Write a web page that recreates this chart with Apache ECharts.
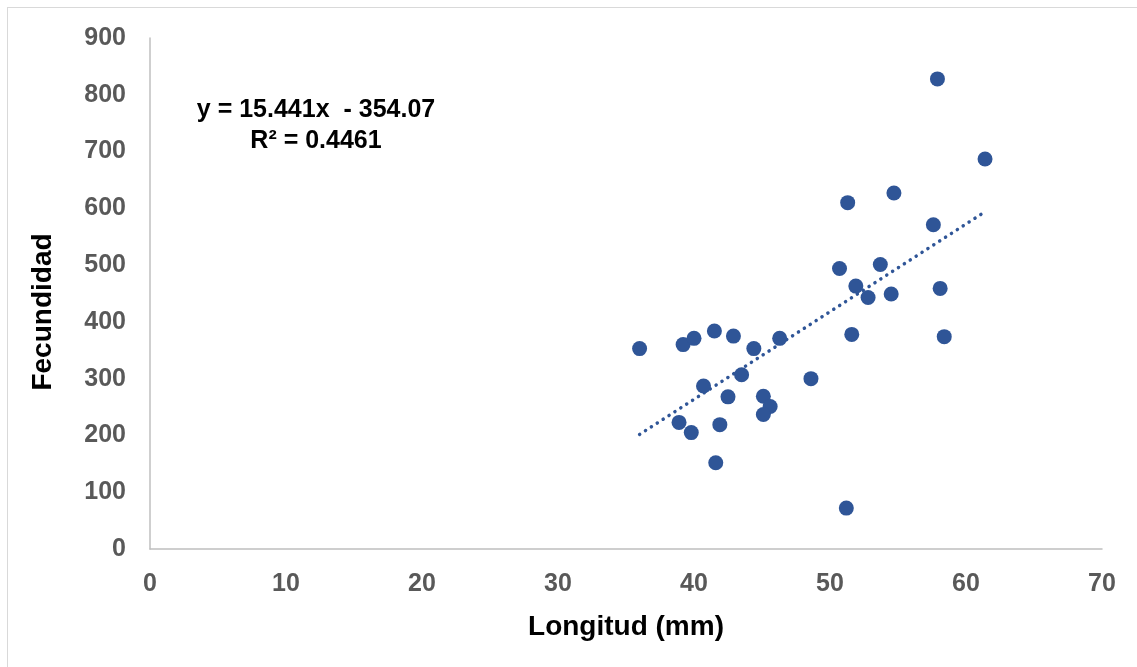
<!DOCTYPE html>
<html>
<head>
<meta charset="utf-8">
<script src="https://cdn.jsdelivr.net/npm/echarts@6/dist/echarts.min.js"></script>
<style>
  html, body { margin: 0; padding: 0; background: #ffffff; }
  #frame { position: absolute; left: 7px; top: 7px; width: 1140px; height: 670px; border: 1px solid #d9d9d9; box-sizing: border-box; }
  #chart { position: absolute; left: 0; top: 0; width: 1137px; height: 667px; }
</style>
</head>
<body>
<div id="frame"></div>
<div id="chart"></div>
<script>
// Data
const longitud = [36.0, 39.2, 40.0, 41.5, 42.9, 44.4, 46.3, 43.5, 40.7, 42.5, 45.1, 45.6, 45.1, 38.9, 39.8, 41.9, 41.6, 48.6,
                  57.9, 61.4, 51.3, 54.7, 57.6, 50.7, 53.7, 51.9, 52.8, 54.5, 58.1, 51.6, 58.4, 51.2];
const fecundidad = [353, 360, 371, 384, 375, 353, 371, 307, 287, 268, 269, 251, 237, 223, 205, 219, 152, 300,
                    828, 687, 610, 627, 571, 494, 501, 463, 443, 449, 459, 378, 374, 72];
const trendSlope = 15.441;
const trendIntercept = -354.07;
const rSquared = 0.4461;
const xTicks = [0, 10, 20, 30, 40, 50, 60, 70];
const yTicks = [0, 100, 200, 300, 400, 500, 600, 700, 800, 900];
const xTitle = 'Longitud (mm)';
const yTitle = 'Fecundidad';

const points = longitud.map((x, i) => [x, fecundidad[i]]);
const xMin = Math.min(...longitud), xMax = Math.max(...longitud);
const trend = [[xMin, trendSlope * xMin + trendIntercept], [xMax, trendSlope * xMax + trendIntercept]];

const FONT = '"Liberation Sans", Arial, sans-serif';
const chart = echarts.init(document.getElementById('chart'), null, { renderer: 'canvas' });
chart.setOption({
  animation: false,
  backgroundColor: 'transparent',
  grid: { left: 150, right: 35, top: 38, bottom: 118 },
  xAxis: {
    type: 'value', min: xTicks[0], max: xTicks[xTicks.length - 1], interval: 10,
    axisLine: { show: true, lineStyle: { color: '#bfbfbf', width: 1.5 } },
    axisTick: { show: false },
    splitLine: { show: false },
    axisLabel: { color: '#595959', fontFamily: FONT, fontWeight: 'bold', fontSize: 25, margin: 23 },
    name: xTitle, nameLocation: 'middle', nameGap: 64,
    nameTextStyle: { color: '#000000', fontFamily: FONT, fontWeight: 'bold', fontSize: 28 }
  },
  yAxis: {
    type: 'value', min: yTicks[0], max: yTicks[yTicks.length - 1], interval: 100,
    axisLine: { show: true, lineStyle: { color: '#bfbfbf', width: 1.5 } },
    axisTick: { show: false },
    splitLine: { show: false },
    axisLabel: { color: '#595959', fontFamily: FONT, fontWeight: 'bold', fontSize: 25, margin: 24 }
  },
  graphic: [
    { type: 'text', x: 43, y: 312, rotation: Math.PI / 2,
      style: { text: yTitle, fill: '#000000', font: 'bold 28px ' + FONT, textAlign: 'center', textVerticalAlign: 'middle' } },
    { type: 'text', x: 316, y: 110,
      style: { text: 'y = ' + trendSlope + 'x  - ' + Math.abs(trendIntercept).toFixed(2), fill: '#000000', font: 'bold 25px ' + FONT, textAlign: 'center', textVerticalAlign: 'middle' } },
    { type: 'text', x: 316, y: 141,
      style: { text: 'R² = ' + rSquared, fill: '#000000', font: 'bold 25px ' + FONT, textAlign: 'center', textVerticalAlign: 'middle' } }
  ],
  series: [
    {
      type: 'line', data: trend, symbol: 'none', silent: true, z: 1,
      lineStyle: { color: '#2F5597', width: 3.5, type: [0.1, 6.9], cap: 'round' }
    },
    {
      type: 'scatter', data: points, symbol: 'circle', symbolSize: 15, z: 2,
      itemStyle: { color: '#2F5597', opacity: 1 }
    }
  ]
});
</script>
</body>
</html>
